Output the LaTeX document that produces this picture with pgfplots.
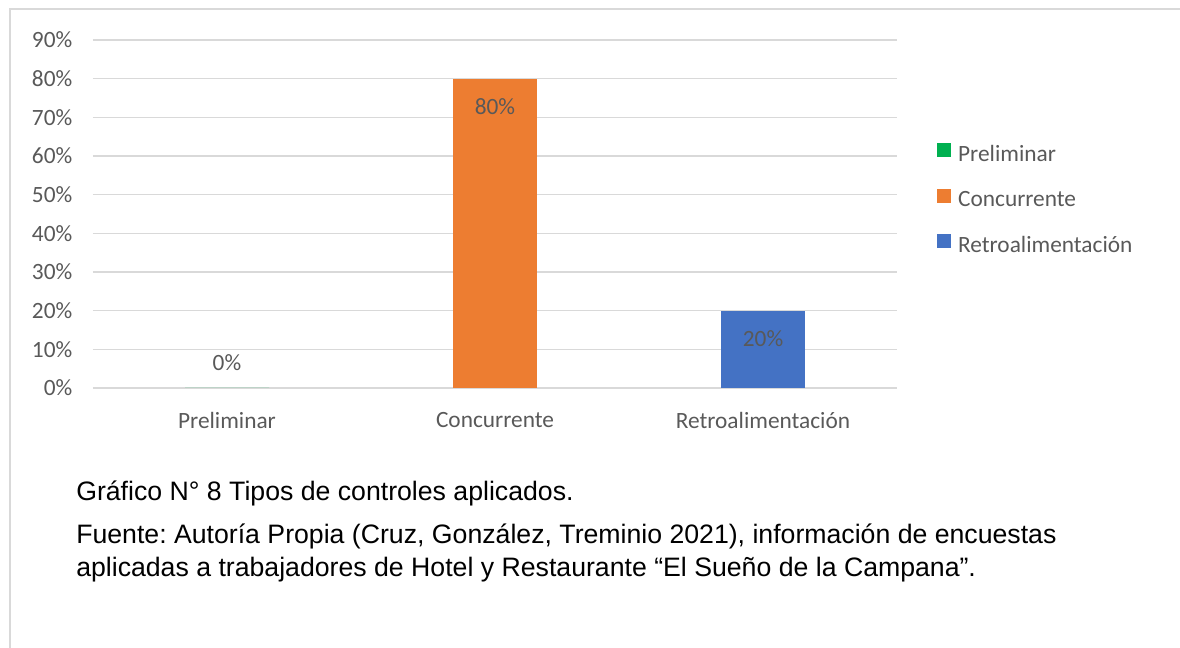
\documentclass[border=0pt]{standalone}
\usepackage{pgfplots}
\pgfplotsset{compat=1.18}
\usepackage{fontspec}
\setmainfont{Carlito}
\newfontfamily\arial{Liberation Sans}
\frenchspacing
\definecolor{txtgray}{HTML}{595959}
\definecolor{gridgray}{HTML}{D9D9D9}
\definecolor{cgreen}{HTML}{00B050}
\definecolor{corange}{HTML}{ED7D31}
\definecolor{cblue}{HTML}{4472C4}
\begin{document}
\begin{tikzpicture}
\useasboundingbox (0,0) rectangle (885pt,486pt);
\draw[gridgray, line width=1.1pt] (7.5pt,0) -- (7.5pt,479.25pt) -- (886pt,479.25pt);
\begin{axis}[
  at={(69.75pt,195pt)}, anchor=south west,
  scale only axis, width=603pt, height=261pt,
  xmin=-0.5, xmax=2.5, ymin=0, ymax=90,
  ytick={0,10,...,90},
  yticklabel={\pgfmathprintnumber{\tick}\%},
  xtick={0,1,2},
  xticklabels={Preliminar,Concurrente,Retroalimentación},
  /pgf/number format/assume math mode=true,
  axis line style={draw=none},
  major tick length=0pt,
  ymajorgrids, grid style={gridgray, line width=0.9pt},
  ticklabel style={font=\fontsize{17.5pt}{20pt}\selectfont, text=txtgray},
  yticklabel style={xshift=-12pt},
  xticklabel style={yshift=-14.5pt},
  ybar, bar width=63pt,
  nodes near coords={\pgfmathprintnumber{\pgfplotspointmeta}\%},
  every node near coord/.append style={font=\fontsize{17.5pt}{20pt}\selectfont, text=txtgray, anchor=center},
  legend style={at={(1.05,0.54)}, anchor=west, draw=none, fill=none, inner sep=0pt,
    font=\fontsize{17.5pt}{20pt}\selectfont, text=txtgray, row sep=17pt,
    /tikz/every odd column/.style={column sep=3pt}},
  legend cell align=left,
  legend image code/.code={\fill[#1] (0pt,-2pt) rectangle (10.5pt,8.5pt);},
]
\addplot[fill=cgreen, draw=none, bar shift=0pt, every node near coord/.append style={yshift=18.75pt}] coordinates {(0,0)};
\addplot[fill=corange, draw=none, bar shift=0pt, every node near coord/.append style={yshift=-21pt}] coordinates {(1,80)};
\addplot[fill=cblue, draw=none, bar shift=0pt, every node near coord/.append style={yshift=-21pt}] coordinates {(2,20)};
\legend{Preliminar,Concurrente,Retroalimentación}
\end{axis}
\begin{scope}[every node/.style={anchor=base west, inner sep=0pt, font=\arial\fontsize{20pt}{24pt}\selectfont}]
\node at (57pt,110.25pt) {Gráfico N° 8 Tipos de controles aplicados.};
\node at (57pt,78pt) {Fuente: Autoría Propia (Cruz, González, Treminio 2021), información de encuestas};
\node at (57pt,53.5pt) {aplicadas a trabajadores de Hotel y Restaurante “El Sueño de la Campana”.};
\end{scope}
\end{tikzpicture}
\end{document}
